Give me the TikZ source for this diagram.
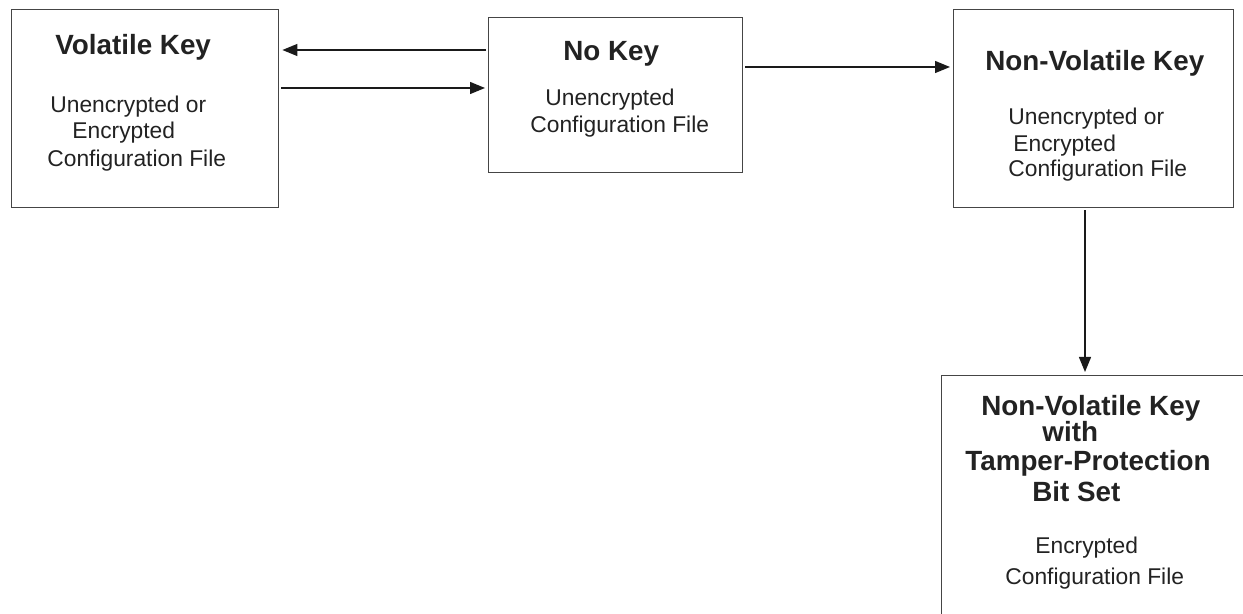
\documentclass[tikz,border=0pt]{standalone}
\usepackage{fontspec}
\setmainfont{Liberation Sans}
\usetikzlibrary{arrows.meta,positioning}
\definecolor{boxline}{HTML}{454545}
\definecolor{arrowink}{HTML}{1A1A1A}
\definecolor{textink}{HTML}{222222}

\begin{document}
\begin{tikzpicture}[x=0.5pt,y=-0.5pt,>={Triangle[length=7.5pt,width=6pt]},
    keybox/.style={draw=boxline,line width=0.7pt,inner sep=0pt,anchor=north west},
    keytitle/.style={font=\fontsize{13.9}{16}\selectfont\bfseries,text=textink,inner sep=0pt,anchor=base west},
    keytext/.style={font=\fontsize{11.4}{13}\selectfont,text=textink,inner sep=0pt,anchor=base west},
    flow/.style={->,draw=arrowink,line width=0.65pt,shorten >=1.5pt,shorten <=1pt}]
  \useasboundingbox (0,0) rectangle (1243,614);
  \clip (0,0) rectangle (1243,614);
  % key-state boxes
  \node[keybox,minimum width=133.5pt,minimum height=99pt] (vol) at (11,9) {};
  \node[keybox,minimum width=127pt,minimum height=77.5pt] (nokey) at (488,17) {};
  \node[keybox,minimum width=140pt,minimum height=99pt] (nvol) at (953,9) {};
  \node[keybox,minimum width=170pt,minimum height=130pt] (tamper) at (941,375) {};
  % volatile key
  \node[keytitle] (vol-t) at (55,55) {Volatile Key};
  \node[keytext] (vol-a) at (50,113) {Unencrypted or};
  \node[keytext] (vol-b) at (72,139) {Encrypted};
  \node[keytext] (vol-c) at (47,167) {Configuration File};
  % no key
  \node[keytitle] (nokey-t) at (563,61) {No Key};
  \node[keytext] (nokey-a) at (545,106) {Unencrypted};
  \node[keytext] (nokey-b) at (530,133) {Configuration File};
  % non-volatile key
  \node[keytitle] (nvol-t) at (985,71) {Non-Volatile Key};
  \node[keytext] (nvol-a) at (1008,125) {Unencrypted or};
  \node[keytext] (nvol-b) at (1013,152) {Encrypted};
  \node[keytext] (nvol-c) at (1008,177) {Configuration File};
  % tamper protected
  \node[keytitle] (tamper-t1) at (981,416) {Non-Volatile Key};
  \node[keytitle] (tamper-t2) at (1042,442) {with};
  \node[keytitle] (tamper-t3) at (965,471) {Tamper-Protection};
  \node[keytitle] (tamper-t4) at (1032,502) {Bit Set};
  \node[keytext] (tamper-a) at (1035,553) {Encrypted};
  \node[keytext] (tamper-b) at (1005,584) {Configuration File};
  % transitions
  \coordinate (drop) at (1085,0);
  \draw[flow] (nokey.west |- 0,50) -- (vol.east |- 0,50);
  \draw[flow] (vol.east |- 0,88) -- (nokey.west |- 0,88);
  \draw[flow] (nokey.east |- 0,67) -- (nvol.west |- 0,67);
  \draw[flow] (nvol.south -| drop) -- (tamper.north -| drop);
\end{tikzpicture}
\end{document}
